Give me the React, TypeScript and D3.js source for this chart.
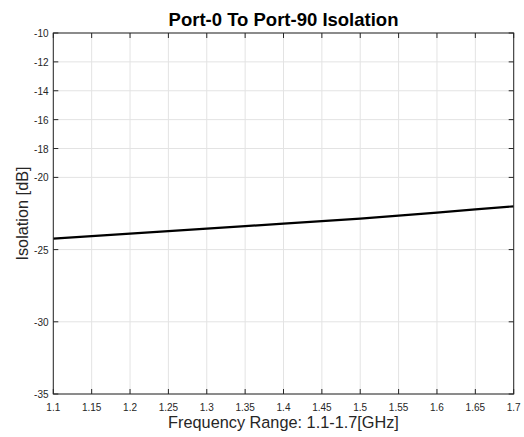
import React from "react";
import * as d3 from "d3";

const freqs = [1.1, 1.15, 1.2, 1.25, 1.3, 1.35, 1.4, 1.45, 1.5, 1.55, 1.6, 1.65, 1.7];
const isolation = [-24.24, -24.07, -23.9, -23.72, -23.55, -23.38, -23.2, -23.03, -22.85, -22.65, -22.44, -22.22, -22.0];
const xTicks = [1.1, 1.15, 1.2, 1.25, 1.3, 1.35, 1.4, 1.45, 1.5, 1.55, 1.6, 1.65, 1.7];
const yTicks = [-10, -12, -14, -16, -18, -20, -25, -30, -35];

const W = 524, H = 437;
const left = 53.3, right = 513.7, top = 33, bottom = 394;
const font = "'Liberation Sans', Arial, sans-serif";

export default function App() {
  const x = d3.scaleLinear().domain([1.1, 1.7]).range([left, right]);
  const y = d3.scaleLinear().domain([-35, -10]).range([bottom, top]);
  const line = d3.line<number>().x((_, i) => x(freqs[i])).y((d) => y(d));
  const axisColor = "#262626";
  const tick = 5;
  return (
    <svg width={W} height={H} style={{ position: "absolute", left: 0, top: 0, background: "#fff" }}>
      <rect x={0} y={0} width={W} height={H} fill="#fff" />
      {xTicks.map((t) => (
        <line key={"gx" + t} x1={x(t)} x2={x(t)} y1={top} y2={bottom} stroke="#e3e3e3" strokeWidth={1} />
      ))}
      {yTicks.map((t) => (
        <line key={"gy" + t} x1={left} x2={right} y1={y(t)} y2={y(t)} stroke="#e3e3e3" strokeWidth={1} />
      ))}
      <path d={line(isolation) || ""} fill="none" stroke="#000" strokeWidth={2.2} />
      <rect x={left} y={top} width={right - left} height={bottom - top} fill="none" stroke={axisColor} strokeWidth={1} />
      {xTicks.map((t) => (
        <g key={"tx" + t}>
          <line x1={x(t)} x2={x(t)} y1={bottom} y2={bottom - tick} stroke={axisColor} />
          <line x1={x(t)} x2={x(t)} y1={top} y2={top + tick} stroke={axisColor} />
          <text x={x(t)} y={410.5} textAnchor="middle" fontFamily={font} fontSize={10} fill="#262626">
            {String(t)}
          </text>
        </g>
      ))}
      {yTicks.map((t) => (
        <g key={"ty" + t}>
          <line x1={left} x2={left + tick} y1={y(t)} y2={y(t)} stroke={axisColor} />
          <line x1={right} x2={right - tick} y1={y(t)} y2={y(t)} stroke={axisColor} />
          <text x={48.5} y={y(t) + 4} textAnchor="end" fontFamily={font} fontSize={10} fill="#262626">
            {String(t)}
          </text>
        </g>
      ))}
      <text x={(left + right) / 2} y={26} textAnchor="middle" fontFamily={font} fontSize={18.5} fontWeight="bold" fill="#000">
        Port-0 To Port-90 Isolation
      </text>
      <text x={(left + right) / 2} y={428} textAnchor="middle" fontFamily={font} fontSize={16.3} fill="#262626">
        Frequency Range: 1.1-1.7[GHz]
      </text>
      <text transform={`translate(28, ${(top + bottom) / 2}) rotate(-90)`} textAnchor="middle" fontFamily={font} fontSize={16.3} fill="#262626">
        Isolation [dB]
      </text>
    </svg>
  );
}
